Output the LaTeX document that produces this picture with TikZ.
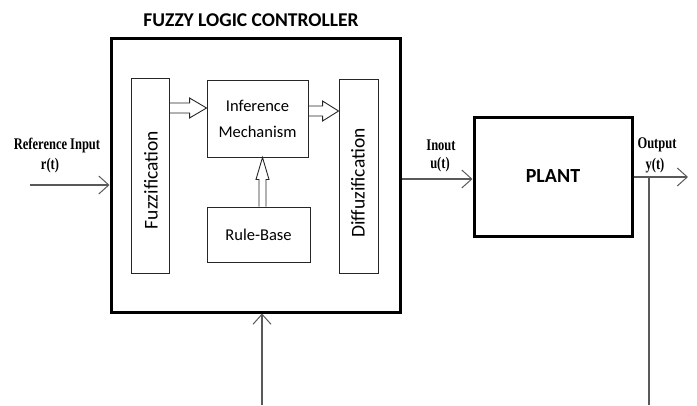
\documentclass[tikz,border=0pt]{standalone}
\usepackage{fontspec}
\usepackage{graphicx}
\setmainfont{Carlito}
\newfontfamily\timesfont{Liberation Serif}
\usetikzlibrary{arrows.meta,calc}

% signal labels are set a little taller than their natural shape
\newcommand\tallsig[1]{\scalebox{1}[1.3]{#1}}

\tikzset{
  frame/.style={draw=black, line width=3pt, fill=none},
  block/.style={draw=black!85, line width=0.9pt, inner sep=0pt, align=center,
                font=\fontsize{16.5}{26}\selectfont},
  wire/.style={draw=black!65, line width=1.1pt},
  tipped/.style={wire, -{Straight Barb[length=10pt,width=18pt,line width=1pt]}},
  fat/.style={draw=black!85, line width=0.9pt},
  sig/.style={font=\timesfont\bfseries\fontsize{12.5}{14}\selectfont, inner sep=0pt}
}

\begin{document}
\begin{tikzpicture}[x=1pt,y=-1pt]
  \useasboundingbox (0,0) rectangle (697,405);

  % controller frame and title
  \node[frame, minimum width=289pt, minimum height=274pt, inner sep=0pt] (flc) at (255.5,175) {};
  \node[font=\bfseries\fontsize{19.5}{22}\selectfont, inner sep=0pt] (title) at (251,20) {FUZZY LOGIC CONTROLLER};

  % inner blocks
  \node[block, minimum width=38pt, minimum height=195pt] (fuzz) at (150,175.5) {};
  \node[rotate=90, font=\fontsize{19.5}{22}\selectfont, inner sep=0pt] (fuzzt) at (151,180) {Fuzzification};
  \node[block, minimum width=101pt, minimum height=77pt] (inf) at (257.5,118.5) {Inference\\Mechanism};
  \node[block, minimum width=103pt, minimum height=55pt] (rule) at (258.5,234.5) {Rule-Base};
  \node[block, minimum width=39pt, minimum height=194pt] (diff) at (358.5,176) {};
  \node[rotate=90, font=\fontsize{19.5}{22}\selectfont, inner sep=0pt] (difft) at (358,183) {Diffuzification};

  % plant
  \node[frame, minimum width=158pt, minimum height=119pt, inner sep=0pt,
        font=\bfseries\fontsize{20}{24}\selectfont] (plant) at (553,176.5) {PLANT};

  % hollow arrows inside the controller
  \coordinate (h1s) at (fuzz.east |- 0,108);
  \coordinate (h1e) at (inf.west |- 0,108);
  \draw[fat] ($(h1s)+(0,-5)$) -- ($(h1e)+(-17,-5)$) -- ($(h1e)+(-17,-10)$) -- (h1e)
             -- ($(h1e)+(-17,10)$) -- ($(h1e)+(-17,5)$) -- ($(h1s)+(0,5)$);
  \coordinate (h2s) at (inf.east |- 0,111);
  \coordinate (h2e) at (diff.west |- 0,111);
  \draw[fat] ($(h2s)+(0,-5)$) -- ($(h2e)+(-16,-5)$) -- ($(h2e)+(-16,-10)$) -- (h2e)
             -- ($(h2e)+(-16,10)$) -- ($(h2e)+(-16,5)$) -- ($(h2s)+(0,5)$);
  \coordinate (v1s) at (rule.north -| 262.5,0);
  \coordinate (v1e) at (inf.south -| 262.5,0);
  \draw[fat] ($(v1s)+(-3.5,0)$) -- ($(v1e)+(-3.5,22)$) -- ($(v1e)+(-6.5,22)$) -- (v1e)
             -- ($(v1e)+(6.5,22)$) -- ($(v1e)+(3.5,22)$) -- ($(v1s)+(3.5,0)$);

  % signals
  \coordinate (rin) at (30,185);
  \draw[tipped] (rin) -- (rin -| flc.west);
  \node[sig] (reflbl) at (57,146) {\tallsig{Reference Input}};
  \node[sig] (rlbl) at (50,166) {\tallsig{r(t)}};

  \coordinate (uout) at (flc.east |- 0,179);
  \draw[tipped] (uout) -- (uout -| plant.west);
  \node[sig] (inlbl) at (441,145) {\tallsig{Inout}};
  \node[sig] (ulbl) at (440,165) {\tallsig{u(t)}};

  \coordinate (yout) at (plant.east |- 0,177);
  \coordinate (yend) at (688,177);
  \draw[tipped] (yout) -- (yend);
  \node[sig] (outlbl) at (657,145) {\tallsig{Output}};
  \node[sig] (ylbl) at (655,166) {\tallsig{y(t)}};

  \coordinate (ytap) at (649,177);
  \coordinate (ybot) at (649,405);
  \draw[wire] (ytap) -- (ybot);

  \coordinate (fbot) at (262,405);
  \draw[tipped] (fbot) -- (fbot |- flc.south);
\end{tikzpicture}
\end{document}
